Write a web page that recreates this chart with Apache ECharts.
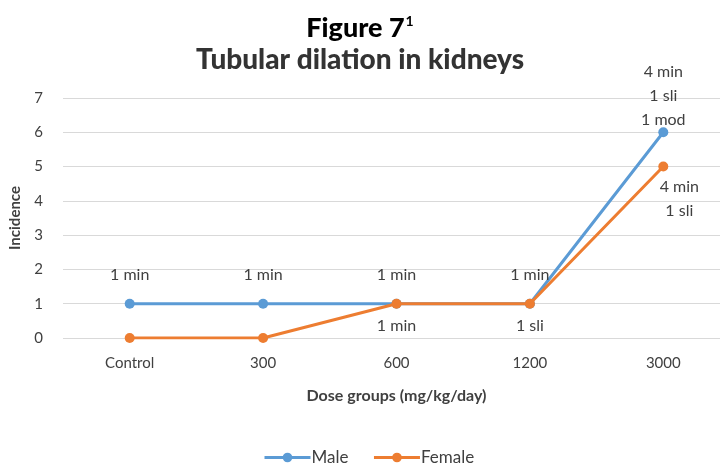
<!DOCTYPE html>
<html>
<head>
<meta charset="utf-8">
<script src="https://cdn.jsdelivr.net/npm/echarts@6/dist/echarts.min.js"></script>
<style>
  html, body { margin: 0; padding: 0; background: #fff; }
  #chart { width: 720px; height: 465px; }
</style>
</head>
<body>
<div id="chart"></div>
<script>
// Dose groups and incidence of tubular dilation by sex
const doseGroups = ['Control', '300', '600', '1200', '3000'];
const maleIncidence = [1, 1, 1, 1, 6];
const femaleIncidence = [0, 0, 1, 1, 5];
// Severity notes per dose group (empty string = no note)
const maleNotes = ['1 min', '1 min', '1 min', '1 min', '4 min\n1 sli\n1 mod'];
const femaleNotes = ['', '', '1 min', '1 sli', '4 min\n1 sli'];
const yTicks = [0, 1, 2, 3, 4, 5, 6, 7];

const FONT = 'Lato, "Open Sans", sans-serif';
const TEXT = '#404040';

const chart = echarts.init(document.getElementById('chart'), null, { renderer: 'canvas' });

// Attach the severity note to each point; the last point's label can be nudged
function withNotes(values, notes, lastOffset) {
  return values.map((v, i) => {
    const d = { value: v, note: notes[i] };
    if (lastOffset && i === values.length - 1) d.label = { offset: lastOffset };
    return d;
  });
}

chart.setOption({
  animation: false,
  backgroundColor: '#ffffff',
  title: [
    {
      text: '{a|Figure 7}{s|1}',
      left: 'center',
      top: 9,
      padding: [5, 5, 5, 21],
      textStyle: {
        rich: {
          a: { fontFamily: FONT, fontSize: 27, fontWeight: 900, color: '#000000' },
          s: { fontFamily: FONT, fontSize: 14, color: '#000000', verticalAlign: 'top', padding: [0, 0, 14, 1] }
        }
      }
    },
    {
      text: 'Tubular dilation in kidneys',
      left: 'center',
      top: 41,
      textStyle: { fontFamily: FONT, fontSize: 28, fontWeight: 900, color: '#333333' }
    }
  ],
  legend: {
    top: 444,
    left: 258,
    itemWidth: 46,
    itemHeight: 12,
    itemGap: 24,
    lineStyle: { width: 3 },
    textStyle: { fontFamily: FONT, fontSize: 17, color: TEXT, padding: [0, 0, 0, -4] },
    data: ['Male', 'Female']
  },
  grid: { left: 63, width: 667, top: 98, height: 240, outerBoundsMode: 'none', containLabel: false },
  xAxis: {
    type: 'category',
    data: doseGroups,
    boundaryGap: true,
    name: 'Dose groups (mg/kg/day)',
    nameLocation: 'middle',
    nameGap: 50,
    nameTextStyle: { fontFamily: FONT, fontSize: 16, fontWeight: 'bold', color: TEXT },
    axisLine: { show: false },
    axisTick: { show: false },
    axisLabel: { fontFamily: FONT, fontSize: 15, color: TEXT, margin: 18 }
  },
  yAxis: {
    type: 'value',
    min: yTicks[0],
    max: yTicks[yTicks.length - 1],
    interval: 1,
    name: 'Incidence',
    nameLocation: 'middle',
    nameGap: 40,
    nameTextStyle: { fontFamily: FONT, fontSize: 15, fontWeight: 'bold', color: TEXT },
    axisLine: { show: false },
    axisTick: { show: false },
    axisLabel: { fontFamily: FONT, fontSize: 15, color: TEXT, margin: 20 },
    splitLine: { lineStyle: { color: '#d9d9d9', width: 1 } }
  },
  series: [
    {
      name: 'Male',
      type: 'line',
      data: withNotes(maleIncidence, maleNotes, [0, 17]),
      symbol: 'circle',
      symbolSize: 10,
      lineStyle: { width: 3, color: '#5B9BD5' },
      itemStyle: { color: '#5B9BD5' },
      label: {
        show: true,
        position: 'top',
        distance: 12,
        fontFamily: FONT,
        fontSize: 16,
        lineHeight: 24,
        color: TEXT,
        formatter: p => p.data.note
      },
      z: 2
    },
    {
      name: 'Female',
      type: 'line',
      data: withNotes(femaleIncidence, femaleNotes, [16, -2]),
      symbol: 'circle',
      symbolSize: 10,
      lineStyle: { width: 3, color: '#ED7D31' },
      itemStyle: { color: '#ED7D31' },
      label: {
        show: true,
        position: 'bottom',
        distance: 5,
        fontFamily: FONT,
        fontSize: 16,
        lineHeight: 24,
        color: TEXT,
        formatter: p => p.data.note
      },
      z: 3
    }
  ]
});
</script>
</body>
</html>
